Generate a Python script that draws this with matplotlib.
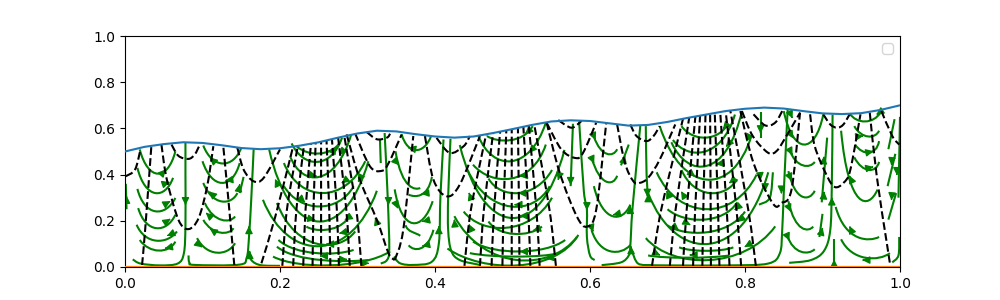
import matplotlib
matplotlib.use("Agg")
import matplotlib.pyplot as plt
import numpy as np
from matplotlib.patches import FancyArrowPatch, PathPatch
from matplotlib.path import Path

# wavy upper wall
wall_x = [0, .025, .05, .075, .1, .125, .15, .175, .2, .225, .25, .275, .3, .325, .35, .375, .4, .425, .45, .475, .5,
          .525, .55, .575, .6, .625, .65, .675, .7, .725, .75, .775, .8, .825, .85, .875, .9, .925, .95, .975, 1]
wall_y = [.50, .52, .532, .54, .537, .527, .515, .51, .514, .525, .54, .56, .578, .59, .587, .575, .565, .56, .565,
          .58, .597, .615, .63, .635, .632, .622, .612, .615, .628, .645, .66, .675, .685, .69, .686, .675, .665,
          .662, .666, .68, .70]

# green U shaped streamlines: left x, left y, bottom x, bottom y, right x, right y
green_arcs = [
    (.019, .509, .043, .404, .065, .501), (.016, .429, .039, .320, .062, .386), (.016, .338, .037, .241, .065, .299),
    (.017, .255, .039, .168, .065, .226), (.015, .183, .039, .114, .067, .154), (.019, .117, .047, .071, .065, .110),
    (.101, .526, .127, .448, .150, .516), (.100, .458, .127, .364, .148, .450), (.101, .364, .127, .284, .145, .320),
    (.103, .277, .129, .204, .142, .219), (.101, .204, .127, .149, .140, .168), (.093, .125, .120, .062, .142, .103),
    (.2215, .523, .252, .491, .277, .538), (.215, .535, .250, .455, .280, .560), (.213, .480, .247, .390, .292, .575),
    (.205, .450, .252, .320, .310, .458), (.205, .350, .252, .262, .295, .350), (.186, .509, .247, .197, .314, .458),
    (.178, .291, .250, .090, .325, .330), (.234, .175, .258, .161, .286, .204), (.196, .277, .252, .100, .297, .154),
    (.198, .117, .247, .060, .295, .074), (.196, .088, .250, .030, .314, .030), (.191, .045, .260, .007, .342, .067),
    (.357, .574, .374, .506, .395, .567), (.349, .501, .368, .355, .381, .342), (.366, .313, .385, .313, .396, .390),
    (.348, .336, .368, .190, .397, .285), (.362, .181, .368, .152, .381, .135), (.366, .094, .381, .081, .398, .161),
    (.467, .567, .499, .549, .526, .610), (.456, .567, .497, .458, .543, .625), (.449, .443, .503, .383, .543, .530),
    (.469, .383, .503, .320, .551, .420), (.442, .420, .503, .262, .548, .350), (.432, .528, .500, .212, .567, .507),
    (.437, .240, .490, .170, .551, .300), (.469, .197, .500, .143, .538, .175), (.449, .110, .510, .067, .568, .117),
    (.425, .220, .510, .030, .583, .130), (.416, .080, .520, .007, .585, .139), (.445, .060, .510, .045, .560, .060),
    (.605, .565, .625, .490, .635, .510), (.602, .475, .625, .370, .635, .395), (.605, .350, .630, .220, .652, .270),
    (.602, .160, .625, .068, .652, .095),
    (.718, .610, .750, .560, .778, .620), (.707, .550, .748, .499, .787, .660), (.705, .540, .752, .438, .796, .675),
    (.690, .610, .755, .378, .808, .565), (.718, .420, .755, .320, .790, .380), (.686, .410, .750, .250, .815, .400),
    (.700, .250, .750, .205, .790, .280), (.700, .180, .750, .150, .800, .240), (.675, .320, .755, .100, .830, .410),
    (.672, .125, .750, .030, .839, .176), (.715, .085, .750, .070, .785, .085), (.675, .050, .720, .040, .780, .050),
    (.850, .675, .877, .530, .901, .660), (.857, .510, .877, .440, .890, .455), (.856, .415, .875, .305, .890, .330),
    (.856, .285, .875, .170, .888, .175), (.854, .140, .873, .066, .890, .077),
    (.935, .665, .955, .630, .975, .670), (.941, .610, .962, .565, .973, .590), (.942, .530, .965, .495, .973, .545),
    (.941, .475, .965, .420, .973, .455), (.924, .590, .945, .300, .971, .335), (.917, .260, .945, .130, .973, .130),
    (.924, .120, .955, .040, .987, .060),
]

# green lines along the cell walls: x values, y values
green_lines = [
    ([.001, .002], [.36, .25]),
    ([.078, .078, .078, .076, .068, .045, .020, .010], [.538, .40, .18, .06, .015, .007, .015, .033]),
    ([.166, .163, .160, .157, .147, .090, .083, .082], [.51, .30, .13, .04, .010, .009, .02, .05]),
    ([.159, .163, .175, .200], [.07, .03, .008, .005]),
    ([.148, .153], [.32, .39]),
    ([.329, .330], [.55, .45]),
    ([.335, .339, .341, .338, .330], [.58, .30, .08, .03, .015]),
    ([.347, .355, .372, .396, .405, .407, .411], [.045, .016, .009, .023, .103, .306, .552]),
    ([.420, .417, .417, .421, .432, .458], [.555, .306, .16, .07, .03, .009]),
    ([.578, .575], [.62, .35]),
    ([.586, .592, .596, .596, .600, .606], [.63, .33, .25, .13, .05, .03]),
    ([.665, .655, .652, .650, .640, .615], [.615, .26, .09, .05, .02, .008]),
    ([.640, .650], [.44, .53]),
    ([.654, .662, .680], [.07, .015, .008]),
    ([.672, .673, .675], [.61, .40, .30]),
    ([.820, .820], [.67, .56]),
    ([.836, .832, .818], [.41, .30, .27]),
    ([.855, .850, .848, .845, .830, .780, .700, .668], [.68, .32, .16, .06, .015, .007, .007, .008]),
    ([.913, .912, .910, .902, .885, .857], [.66, .35, .16, .07, .03, .018]),
    ([.896, .900], [.13, .23]),
    ([.899, .906], [.28, .56]),
    ([.915, .915], [.12, .015]),
    ([.985, .993], [.51, .64]),
    ([.984, .994], [.35, .49]),
    ([.985, .995], [.205, .32]),
    ([1.0, .998], [.65, .30]),
    ([.999, .998, .990], [.13, .05, .02]),
]

# black dashed vertical contours: x at the floor, x at the wall
contour_foot = [.203, .217, .230, .242, .253, .265, .276, .290, .305,
                .438, .458, .473, .487, .499, .509, .523, .535, .556,
                .680, .703, .720, .733, .745, .756, .767, .780, .795, .814]
contour_head = [.223, .231, .240, .246, .253, .260, .267, .275, .283,
                .466, .475, .484, .492, .499, .507, .514, .521, .528,
                .720, .728, .736, .742, .749, .755, .761, .768, .775, .781]

# the other black dashed contours, x values and y values
black_lines = [
    ([.001, .013, .020], [.393, .422, .509]),
    ([.022, .026, .034], [.009, .161, .523]),
    ([.047, .054, .069, .082, .095, .106, .114], [.530, .378, .204, .164, .212, .349, .523]),
    ([.060, .069, .082, .090, .096], [.530, .481, .468, .487, .526]),
    ([.127, .133, .141], [.516, .306, .009]),
    ([.145, .153, .166, .179, .200], [.516, .422, .371, .386, .509]),
    ([.176, .194, .217], [.016, .219, .523]),
    ([.297, .316, .331, .340, .357], [.578, .436, .416, .449, .574]),
    ([.286, .303, .325, .340, .348], [.574, .378, .204, .06, .03]),
    ([.348, .359, .372], [.03, .16, .567]),
    ([.312, .325, .338, .342], [.584, .553, .56, .577]),
    ([.387, .398, .415, .432, .458], [.567, .378, .306, .357, .567]),
    ([.402, .419, .437, .445], [.559, .494, .523, .567]),
    ([.544, .561, .583, .596, .608, .621], [.625, .407, .219, .175, .248, .625]),
    ([.544, .563, .581, .591, .608], [.625, .509, .472, .494, .625]),
    ([.559, .576, .589], [.636, .603, .632]),
    ([.635, .645, .656, .664, .675, .690, .710], [.617, .451, .371, .364, .386, .465, .617]),
    ([.652, .660, .673, .682, .690], [.617, .567, .545, .567, .61]),
    ([.794, .811, .836, .847, .860, .871], [.675, .45, .275, .277, .335, .668]),
    ([.796, .810, .830, .841, .852, .871], [.675, .567, .494, .503, .559, .668]),
    ([.811, .826, .839, .848], [.661, .613, .625, .675]),
    ([.884, .890, .906, .916, .927, .936, .949], [.661, .523, .393, .346, .364, .422, .661]),
    ([.901, .910, .919, .927, .935], [.661, .617, .603, .617, .661]),
    ([.961, .970, .983, .987], [.668, .393, .103, .016]),
    ([.976, .990, .999], [.675, .567, .530]),
]

# arrow heads: x, y, direction x, direction y
arrows = [
    (.002, .306, 0, 1), (.052, .42, 1, 1), (.057, .367, 1, .3), (.058, .284, 1, .5), (.058, .207, 1, .6),
    (.055, .136, -1, -.4), (.052, .081, -1, -.2), (.078, .27, 0, -1), (.110, .472, -1, .8), (.130, .375, -1, -.1),
    (.109, .325, -1, .8), (.105, .233, -1, .8), (.110, .165, -1, .6), (.099, .087, 1, -.7), (.148, .357, .2, 1),
    (.160, .175, 0, 1), (.161, .067, 0, 1), (.194, .378, -.5, 1), (.232, .281, 1, -.8), (.247, .393, 1, -.2),
    (.262, .501, -1, 0), (.277, .487, -1, -1), (.280, .364, -1, -.7), (.301, .371, -.6, -1), (.323, .212, -.4, 1),
    (.245, .204, 1, -.2), (.284, .204, -1, -.6), (.277, .146, -1, -.2), (.260, .099, -1, 0), (.252, .048, -1, 0),
    (.286, .033, 1, 0), (.314, .016, 1, 0),
    (.340, .27, 0, -1), (.366, .516, -1, .2), (.353, .443, 1, -1), (.383, .317, -1, -.1), (.352, .255, .5, -1),
    (.384, .197, -1, -.2), (.384, .091, -1, -.2), (.405, .175, 0, 1), (.425, .204, -.1, 1), (.444, .32, -.4, 1),
    (.444, .183, -.5, 1), (.517, .578, -1, -.8), (.522, .497, -1, -1), (.510, .393, -1, -.1), (.508, .32, -1, 0),
    (.503, .27, -1, 0), (.510, .222, -1, 0), (.527, .158, -1, -.3), (.510, .067, -1, 0), (.544, .038, -1, -.1),
    (.559, .378, -.3, -1), (.575, .357, 0, -1), (.596, .248, 0, -1), (.604, .154, .4, -1), (.607, .552, .5, -1),
    (.605, .451, .5, -1), (.630, .226, -1, -.2), (.645, .48, .3, 1), (.652, .262, 0, 1), (.653, .088, 0, 1),
    (.674, .306, 0, -1),
    (.675, .313, 0, 1), (.699, .328, -.5, 1), (.718, .325, -.7, 1), (.735, .393, 1, -.7), (.714, .161, 1, -.7),
    (.729, .183, 1, -.5), (.690, .052, 1, -.4), (.729, .052, -1, 0), (.772, .599, -1, -1), (.776, .523, -1, -1),
    (.763, .446, -1, -.1), (.780, .364, -1, -.7), (.787, .248, -1, -.8), (.791, .197, -1, -.7), (.800, .088, -1, -.5),
    (.802, .545, -.6, -1), (.820, .581, 0, -1), (.820, .378, .1, -1), (.826, .33, 0, -1), (.847, .32, 0, -1),
    (.861, .646, .5, -1), (.862, .559, .7, -1), (.861, .487, .6, -1), (.860, .375, .5, -1), (.859, .241, .5, -1),
    (.857, .117, .5, -1), (.900, .168, .3, 1), (.902, .477, .1, 1), (.902, .325, .1, 1), (.912, .299, 0, 1),
    (.915, .03, 0, 1), (.935, .393, -.5, 1), (.935, .175, -.5, 1), (.952, .03, -1, 0), (.970, .661, -1, -.6),
    (.952, .567, 1, .1), (.965, .501, 1, .2), (.965, .433, 1, .2), (.989, .443, -.1, -1), (.989, .291, -.1, -1),
    (.996, .40, 0, -1),
]


def arc_path(xl, yl, xb, yb, xr, yr):
    # cubic through the lowest point, rounded bottom
    c = (8 * yb - yl - yr) / 6
    verts = [(xl, yl), (xl + .45 * (xb - xl), c), (xr - .45 * (xr - xb), c), (xr, yr)]
    return Path(verts, [Path.MOVETO, Path.CURVE4, Path.CURVE4, Path.CURVE4])


def line_path(xs, ys):
    # smooth curve passing through every read point
    pts = np.column_stack([xs, ys])
    if len(pts) == 2:
        return Path(pts)
    verts = [pts[0]]
    codes = [Path.MOVETO]
    for i in range(len(pts) - 1):
        before = pts[max(i - 1, 0)]
        after = pts[min(i + 2, len(pts) - 1)]
        verts += [pts[i] + (pts[i + 1] - before) / 6, pts[i + 1] - (after - pts[i]) / 6, pts[i + 1]]
        codes += [Path.CURVE4] * 3
    return Path(verts, codes)


fig, ax = plt.subplots(figsize=(10, 3))

for arc in green_arcs:
    ax.add_patch(PathPatch(arc_path(*arc), fc="none", ec="green", lw=1.5, zorder=2))
for xs, ys in green_lines:
    ax.add_patch(PathPatch(line_path(xs, ys), fc="none", ec="green", lw=1.5, zorder=2))
for x, y, dx, dy in arrows:
    tail = (x - .0008 * dx, y - .003 * dy)
    tip = (x + .0008 * dx, y + .003 * dy)
    ax.add_patch(FancyArrowPatch(tail, tip, arrowstyle="-|>", mutation_scale=11, color="green", lw=1.0,
                                 shrinkA=0, shrinkB=0, zorder=2))

for foot, head in zip(contour_foot, contour_head):
    top = np.interp(head, wall_x, wall_y)
    xs = [foot, foot + .3 * (head - foot), head]
    ax.add_patch(PathPatch(line_path(xs, [.005, .25, top]), fc="none", ec="k", lw=1.5, ls="--", zorder=3))
for xs, ys in black_lines:
    ax.add_patch(PathPatch(line_path(xs, ys), fc="none", ec="k", lw=1.5, ls="--", zorder=3))

ax.plot(wall_x, wall_y, color="C0", zorder=4)
ax.plot([0, 1], [0, 0], color="C3", zorder=4)
ax.plot([0, 1], [0, 0], color="C1", zorder=4)

ax.set_xlim(0, 1)
ax.set_ylim(0, 1)
ax.legend(handles=[], loc="upper right")

fig.savefig("out.png", dpi=100)
